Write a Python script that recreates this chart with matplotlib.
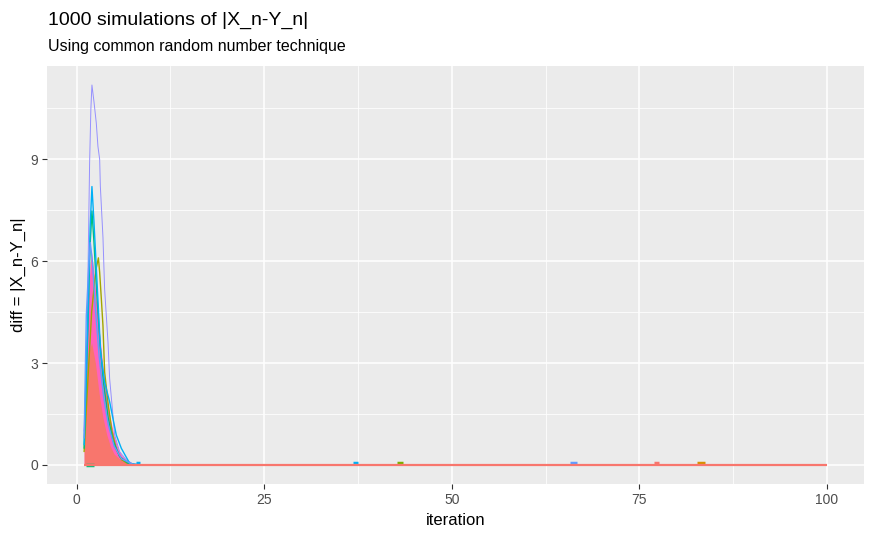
import matplotlib
matplotlib.use("Agg")
import matplotlib.pyplot as plt
from matplotlib.ticker import MultipleLocator

plt.rcParams["font.family"] = ["Liberation Sans", "DejaVu Sans"]

# values: a few visible simulations plus the envelope of the dense mass
purple_x = [1.0, 1.4, 1.73, 1.9, 2.04, 2.31, 2.62, 2.84, 3.07, 3.16, 3.51, 3.73, 4.18, 4.4, 4.76, 5.07, 5.73, 6.62, 7.5, 9.0]
purple_y = [1.0, 4.0, 8.9, 10.5, 11.19, 10.7, 10.07, 9.38, 9.0, 8.21, 6.7, 5.18, 3.62, 2.54, 1.66, 0.88, 0.39, 0.15, 0.03, 0.0]
cyan_x = [1.0, 1.5, 1.8, 2.04, 2.3, 2.6, 2.9, 3.2, 3.73, 4.4, 4.84, 5.29, 5.96, 7.07, 8.5]
cyan_y = [0.6, 4.4, 7.0, 8.2, 7.2, 5.9, 4.6, 3.3, 2.44, 1.86, 1.37, 0.88, 0.49, 0.05, 0.0]
green_x = [1.0, 1.5, 1.8, 2.04, 2.3, 2.7, 3.1, 3.6, 4.2, 4.84, 5.73, 7.0]
green_y = [0.5, 4.0, 6.5, 7.48, 6.6, 5.0, 3.6, 2.4, 1.4, 0.73, 0.25, 0.02]
olive_x = [1.0, 1.5, 2.0, 2.4, 2.62, 2.9, 3.07, 3.29, 3.51, 3.73, 4.2, 4.7, 5.3, 6.0, 7.0]
olive_y = [0.4, 2.5, 4.5, 5.4, 5.8, 6.1, 5.67, 4.9, 4.1, 2.74, 1.8, 1.0, 0.45, 0.15, 0.02]
blue_x = [1.0, 1.29, 1.6, 1.82, 2.1, 2.5, 3.0, 3.6, 4.2, 5.0, 6.0, 7.5]
blue_y = [0.8, 4.4, 5.8, 6.55, 6.0, 4.6, 3.2, 2.0, 1.2, 0.55, 0.18, 0.02]
pink_x = [1.0, 1.2, 1.5, 1.8, 1.96, 2.3, 2.6, 3.0, 3.5, 4.0, 4.5, 5.0, 5.5, 6.0, 7.0, 8.0]
pink_y = [1.4, 3.1, 4.7, 5.9, 6.3, 5.7, 4.9, 4.0, 2.9, 2.0, 1.35, 0.85, 0.5, 0.28, 0.08, 0.02]
red_x = [1.0, 1.3, 1.6, 2.0, 2.5, 3.0, 3.5, 4.0, 4.5, 5.0, 6.0, 7.0, 8.0, 9.0]
red_y = [1.3, 2.6, 3.3, 3.6, 3.0, 2.1, 1.4, 0.9, 0.55, 0.32, 0.12, 0.05, 0.02, 0.0]
base_x = [1, 100]
base_y = [0, 0]
# short near-zero blips further out
blip_x0 = [1.3, 7.9, 36.8, 42.7, 65.7, 77.0, 82.7]
blip_x1 = [2.3, 8.5, 37.5, 43.5, 66.7, 77.6, 83.8]
blip_y = [0.0, 0.06, 0.06, 0.06, 0.06, 0.06, 0.06]
blip_col = ["#00BF7D", "#00B0F6", "#00B0F6", "#7CAE00", "#619CFF", "#F8766D", "#D89000"]

fig = plt.figure(figsize=(8.75, 5.4), dpi=100)
ax = fig.add_axes([47 / 875, 56 / 540, 817 / 875, 418 / 540])
ax.set_facecolor("#EBEBEB")
for s in ax.spines.values():
    s.set_visible(False)

ax.plot(purple_x, purple_y, color="#9590FF", lw=0.7)
ax.plot(olive_x, olive_y, color="#A3A500", lw=1.0)
ax.plot(green_x, green_y, color="#00BF7D", lw=1.0)
ax.plot(cyan_x, cyan_y, color="#00B0F6", lw=1.0)
ax.plot(blue_x, blue_y, color="#619CFF", lw=1.0)
ax.fill_between(pink_x, 0, pink_y, color="#FF62BC", lw=0)
ax.fill_between(red_x, 0, red_y, color="#F8766D", lw=0)
ax.hlines(blip_y, blip_x0, blip_x1, colors=blip_col, lw=2.5)
ax.plot(base_x, base_y, color="#F8766D", lw=1.6, solid_capstyle="butt")

ax.set_xlim(-3.95, 104.95)
ax.set_ylim(-0.56, 11.75)
ax.xaxis.set_major_locator(MultipleLocator(25))
ax.xaxis.set_minor_locator(MultipleLocator(12.5))
ax.yaxis.set_major_locator(MultipleLocator(3))
ax.yaxis.set_minor_locator(MultipleLocator(1.5))
ax.grid(which="major", color="white", lw=1.1)
ax.grid(which="minor", color="white", lw=0.55)
ax.set_axisbelow(True)
ax.tick_params(which="major", length=3.5, width=0.8, color="#333333", labelcolor="#4D4D4D", labelsize=10, pad=3)
ax.tick_params(which="minor", length=0)

ax.set_xlabel("iteration", fontsize=12, labelpad=4)
ax.set_ylabel("diff = |X_n-Y_n|", fontsize=12, labelpad=3)
fig.text(48 / 875, 1 - 20 / 540, "1000 simulations of |X_n-Y_n|", fontsize=14, va="center", ha="left")
fig.text(48 / 875, 1 - 47 / 540, "Using common random number technique", fontsize=11.5, va="center", ha="left")

fig.savefig("out.png", dpi=100)
